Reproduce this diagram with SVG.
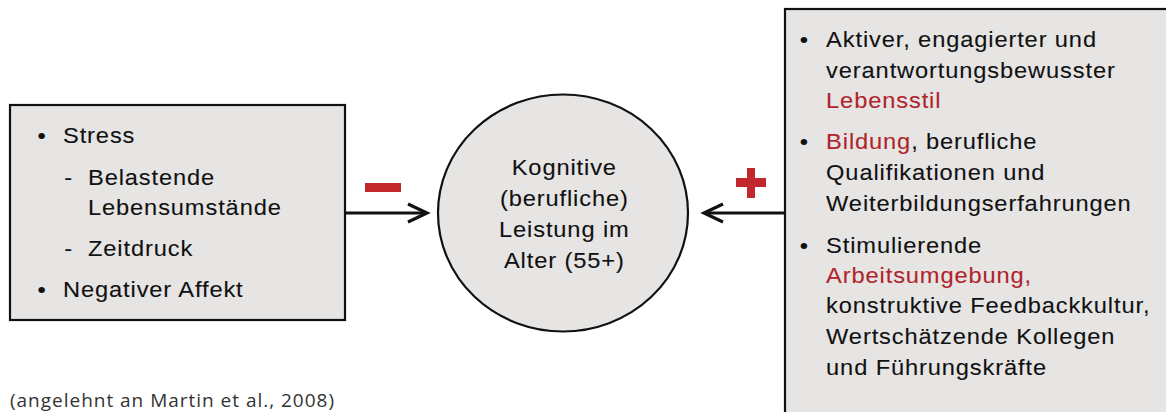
<svg xmlns="http://www.w3.org/2000/svg" width="1166" height="412" viewBox="0 0 1166 412">
<style>
.box{fill:#e6e5e4;stroke:#111;stroke-width:2.2}
.t{font-family:"Liberation Sans",Arial,sans-serif;font-size:21.5px;letter-spacing:0.8px;fill:#111;stroke:#111;stroke-width:0.1}
.r{fill:#b0242b;stroke:#b0242b}
.c{text-anchor:middle}
.con{stroke:#111;stroke-width:3.2;fill:none}
.sign{fill:#c1272d}
</style>
<rect width="1166" height="412" fill="#fff"/>
<g id="connectors">
<line class="con" x1="346" y1="213" x2="426" y2="213"/>
<polyline class="con" points="408,204 427,213 408,222"/>
<line class="con" x1="785" y1="213" x2="705" y2="213"/>
<polyline class="con" points="723,204 704,213 723,222"/>
<rect id="minus" class="sign" x="365" y="183" width="36" height="9"/>
<g id="plus" class="sign"><rect x="747" y="168" width="8" height="30"/><rect x="736" y="178" width="30" height="9"/></g>
</g>
<g id="left-box">
<rect class="box" x="10" y="105" width="335" height="215"/>
<g transform="scale(1.1,1)">
<text class="t" x="34" y="143">•</text>
<text class="t" x="57.3" y="143">Stress</text>
<text class="t" x="58.5" y="185">-</text>
<text class="t" x="80" y="185">Belastende</text>
<text class="t" x="80" y="215">Lebensumstände</text>
<text class="t" x="58.5" y="256">-</text>
<text class="t" x="80" y="256">Zeitdruck</text>
<text class="t" x="34" y="297">•</text>
<text class="t" x="57.3" y="297">Negativer Affekt</text>
</g>
</g>
<g id="center">
<ellipse class="box" cx="563" cy="213" rx="125" ry="118.5"/>
<g transform="scale(1.1,1)">
<text class="t c" x="513" y="175">Kognitive</text>
<text class="t c" x="513" y="206">(berufliche)</text>
<text class="t c" x="513" y="237">Leistung im</text>
<text class="t c" x="513" y="268">Alter (55+)</text>
</g>
</g>
<g id="right-box">
<rect class="box" x="785" y="9" width="400" height="420"/>
<g transform="scale(1.1,1)">
<text class="t" x="727" y="47">•</text>
<text class="t" x="751" y="47">Aktiver, engagierter und</text>
<text class="t" x="751" y="78">verantwortungsbewusster</text>
<text class="t r" x="751" y="108">Lebensstil</text>
<text class="t" x="727" y="149">•</text>
<text class="t" x="751" y="149"><tspan class="r">Bildung</tspan>, berufliche</text>
<text class="t" x="751" y="180">Qualifikationen und</text>
<text class="t" x="751" y="211">Weiterbildungserfahrungen</text>
<text class="t" x="727" y="253">•</text>
<text class="t" x="751" y="253">Stimulierende</text>
<text class="t r" x="751" y="283">Arbeitsumgebung,</text>
<text class="t" x="751" y="313">konstruktive Feedbackkultur,</text>
<text class="t" x="751" y="344">Wertschätzende Kollegen</text>
<text class="t" x="751" y="375">und Führungskräfte</text>
</g>
</g>
<text id="source" x="10" y="407" textLength="324" style="font-family:'Open Sans','Noto Sans',sans-serif;font-size:19px;fill:#333">(angelehnt an Martin et al., 2008)</text>
</svg>
